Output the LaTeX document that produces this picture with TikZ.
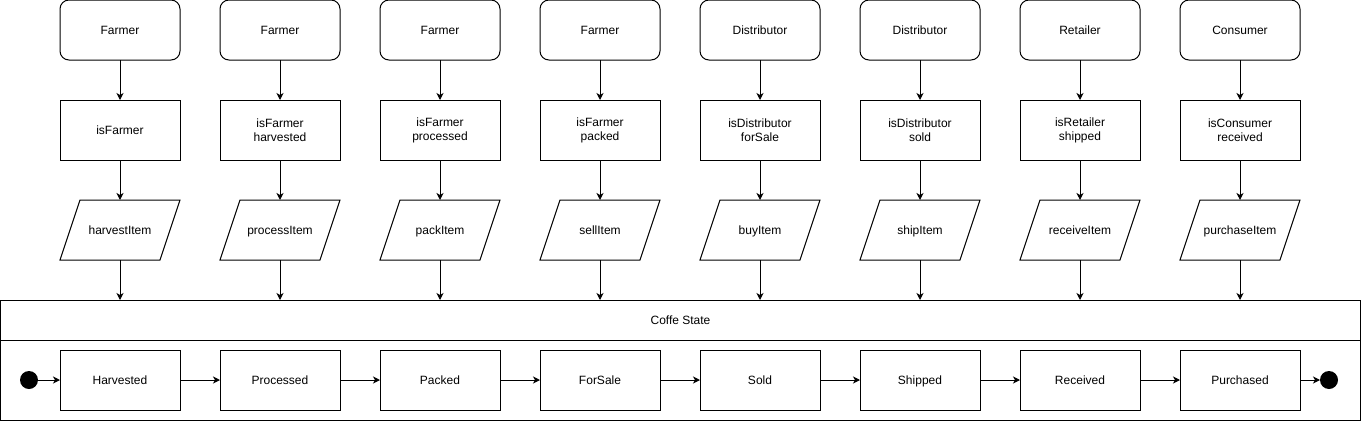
\documentclass[tikz,border=0pt]{standalone}
\usepackage{fontspec}
\setmainfont{Liberation Sans}
\usetikzlibrary{shapes.geometric,arrows.meta}

\begin{document}
\begin{tikzpicture} [x=1pt,y=-1pt,line width=1pt,>={Stealth[length=7pt,width=7pt,inset=2pt]},
			font=\fontsize{12}{14}\selectfont,
			actor/.style={draw,rounded corners=9pt,text height=8.6pt,text depth=0pt,
				minimum width=120pt,minimum height=60pt,outer sep=0pt},
			check/.style={draw,align=center,minimum width=120pt,minimum height=60pt,outer sep=0pt},
			action/.style={draw,trapezium,trapezium left angle=71.57,trapezium right angle=108.43,
				trapezium stretches body=true,text height=8.6pt,text depth=0pt,inner ysep=25.7pt,
				minimum width=120pt,outer sep=0pt},
			state/.style={draw,text height=8.6pt,text depth=0pt,
				minimum width=120pt,minimum height=60pt,outer sep=0pt},
			lane/.style={draw,minimum width=1360pt,text height=8.6pt,text depth=0pt,outer sep=0pt},
			pseudo/.style={circle,fill,minimum size=18pt,inner sep=0pt,outer sep=0pt}]

		\useasboundingbox (0,0) rectangle (1361,421);

		% who calls
		\node [actor] (farmer_1) at (120,30) {Farmer};
		\node [actor] (farmer_2) at (280,30) {Farmer};
		\node [actor] (farmer_3) at (440,30) {Farmer};
		\node [actor] (farmer_4) at (600,30) {Farmer};
		\node [actor] (distributor_1) at (760,30) {Distributor};
		\node [actor] (distributor_2) at (920,30) {Distributor};
		\node [actor] (retailer) at (1080,30) {Retailer};
		\node [actor] (consumer) at (1240,30) {Consumer};

		% modifiers
		\node [check] (isFarmer) at (120,130) {isFarmer}
			edge [<-] (farmer_1);
		\node [check] (isHarvested) at (280,130) {isFarmer\\harvested}
			edge [<-] (farmer_2);
		\node [check] (isProcessed) at (440,130) {isFarmer\\processed}
			edge [<-] (farmer_3);
		\node [check] (isPacked) at (600,130) {isFarmer\\packed}
			edge [<-] (farmer_4);
		\node [check] (isForSale) at (760,130) {isDistributor\\forSale}
			edge [<-] (distributor_1);
		\node [check] (isSold) at (920,130) {isDistributor\\sold}
			edge [<-] (distributor_2);
		\node [check] (isShipped) at (1080,130) {isRetailer\\shipped}
			edge [<-] (retailer);
		\node [check] (isReceived) at (1240,130) {isConsumer\\received}
			edge [<-] (consumer);

		% functions
		\node [action] (harvestItem) at (120,230) {harvestItem}
			edge [<-] (isFarmer);
		\node [action] (processItem) at (280,230) {processItem}
			edge [<-] (isHarvested);
		\node [action] (packItem) at (440,230) {packItem}
			edge [<-] (isProcessed);
		\node [action] (sellItem) at (600,230) {sellItem}
			edge [<-] (isPacked);
		\node [action] (buyItem) at (760,230) {buyItem}
			edge [<-] (isForSale);
		\node [action] (shipItem) at (920,230) {shipItem}
			edge [<-] (isSold);
		\node [action] (receiveItem) at (1080,230) {receiveItem}
			edge [<-] (isShipped);
		\node [action] (purchaseItem) at (1240,230) {purchaseItem}
			edge [<-] (isReceived);

		% state machine
		\node [lane,minimum height=40pt] (coffee) at (680.5,320) {Coffe State};
		\node [lane,minimum height=80pt] (states) at (680.5,380) {};

		\draw [->] (harvestItem) -- (harvestItem |- coffee.north);
		\draw [->] (processItem) -- (processItem |- coffee.north);
		\draw [->] (packItem) -- (packItem |- coffee.north);
		\draw [->] (sellItem) -- (sellItem |- coffee.north);
		\draw [->] (buyItem) -- (buyItem |- coffee.north);
		\draw [->] (shipItem) -- (shipItem |- coffee.north);
		\draw [->] (receiveItem) -- (receiveItem |- coffee.north);
		\draw [->] (purchaseItem) -- (purchaseItem |- coffee.north);

		\node [pseudo] (start) at (29,380) {};
		\node [state] (harvested) at (120,380) {Harvested}
			edge [<-] (start);
		\node [state] (processed) at (280,380) {Processed}
			edge [<-] (harvested);
		\node [state] (packed) at (440,380) {Packed}
			edge [<-] (processed);
		\node [state] (forSale) at (600,380) {ForSale}
			edge [<-] (packed);
		\node [state] (sold) at (760,380) {Sold}
			edge [<-] (forSale);
		\node [state] (shipped) at (920,380) {Shipped}
			edge [<-] (sold);
		\node [state] (received) at (1080,380) {Received}
			edge [<-] (shipped);
		\node [state] (purchased) at (1240,380) {Purchased}
			edge [<-] (received);
		\node [pseudo] (finish) at (1329,380) {}
			edge [<-] (purchased);
		\end{tikzpicture}
\end{document}
